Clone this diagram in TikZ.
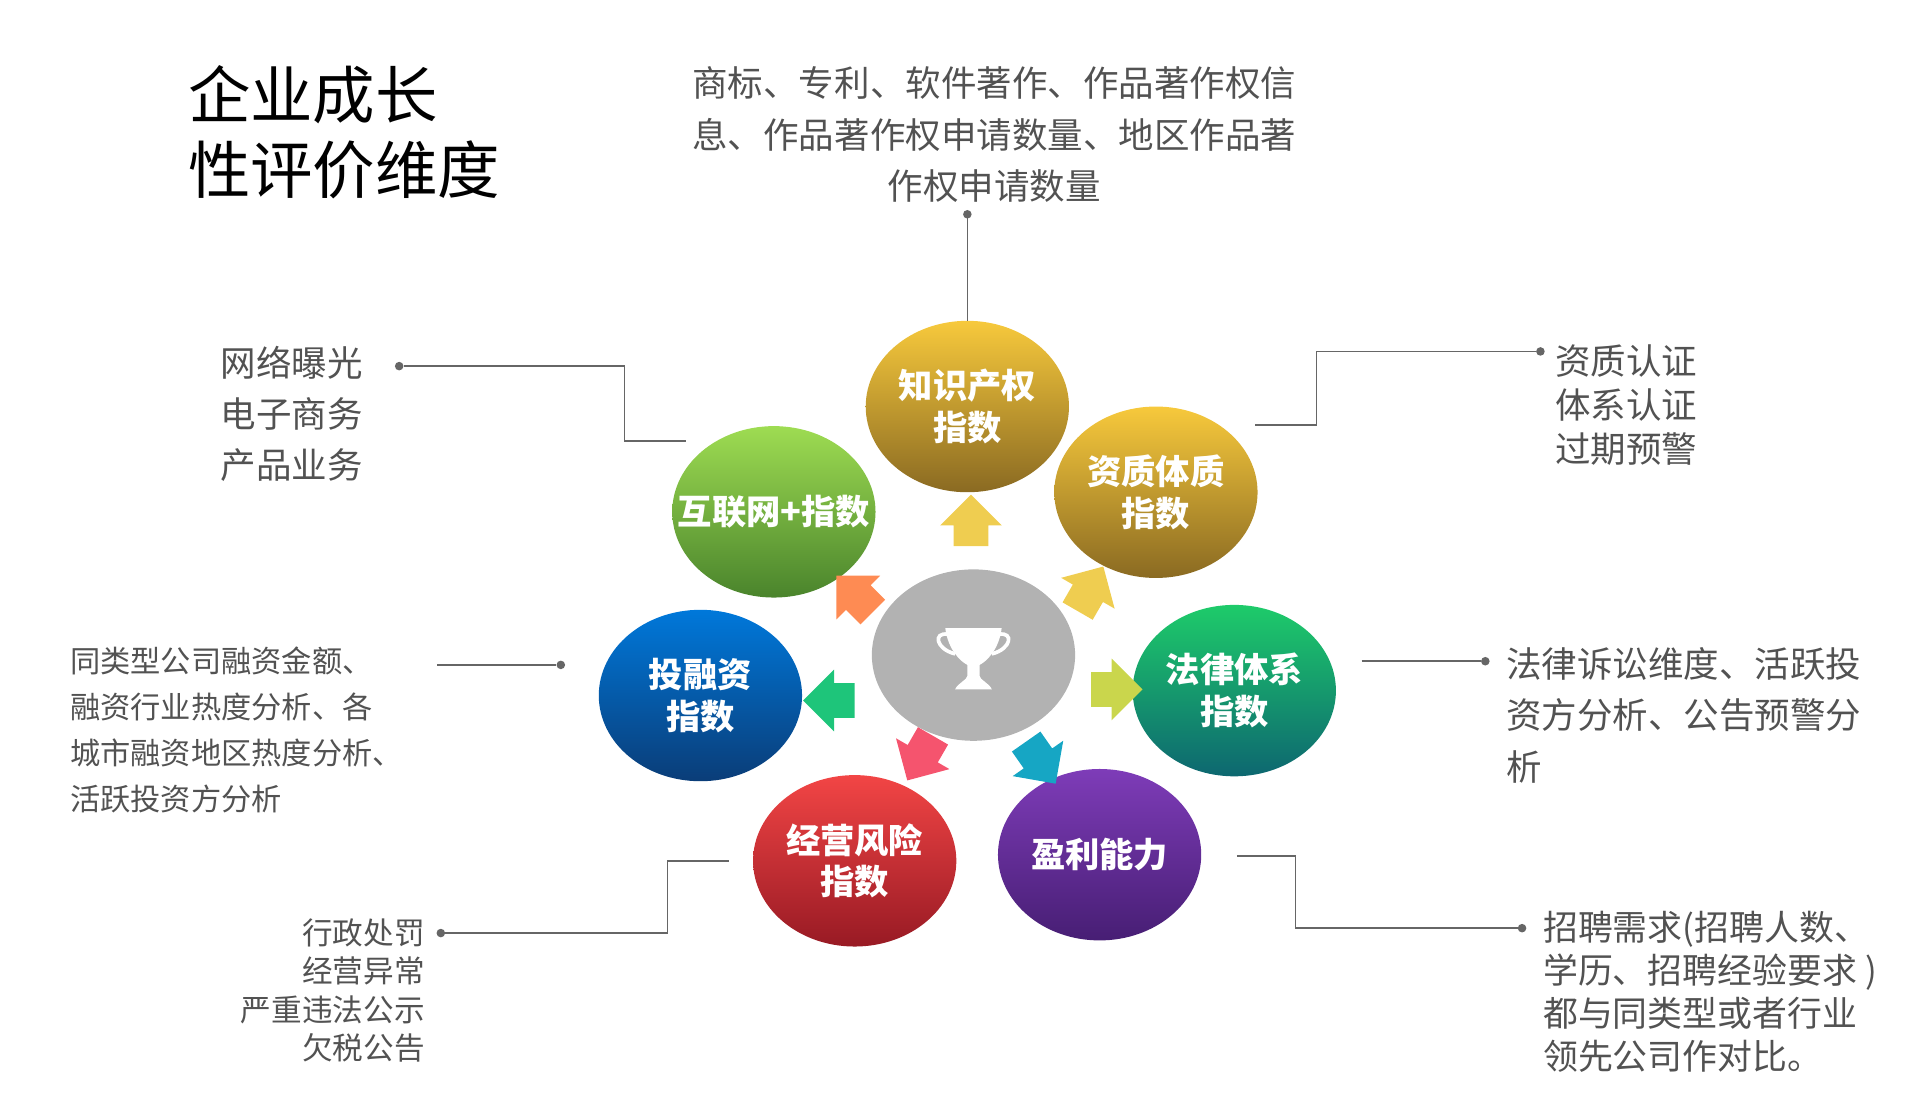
\documentclass[tikz,border=0pt]{standalone}
\usepackage{fontspec}
\setmainfont{Noto Sans CJK SC}
\usetikzlibrary{shapes.arrows,shapes.geometric}
\definecolor{g1}{HTML}{F7C93C}\definecolor{g2}{HTML}{8A6A22}
\definecolor{l1}{HTML}{9EDC52}\definecolor{l2}{HTML}{4A842C}
\definecolor{t1}{HTML}{1ECB6A}\definecolor{t2}{HTML}{0D6770}
\definecolor{b1}{HTML}{0078DA}\definecolor{b2}{HTML}{0A3D78}
\definecolor{r1}{HTML}{F24545}\definecolor{r2}{HTML}{981A24}
\definecolor{p1}{HTML}{7E3CB8}\definecolor{p2}{HTML}{471E74}
\begin{document}
\begin{tikzpicture}[x=1pt,y=-1pt,
  ball/.style={ellipse,minimum width=166pt,minimum height=140pt,inner sep=0pt},
  lab/.style={text=white,font=\fontsize{28}{34}\selectfont\bfseries,align=center,inner sep=0pt},
  arr/.style={single arrow,minimum height=42pt,minimum width=50pt,single arrow head extend=11pt,inner xsep=0pt,inner ysep=14pt,draw=none},
  desc/.style={font=\fontsize{29}{42}\selectfont,text=black!68,inner sep=0pt},
  ln/.style={draw=black!60,line width=1.2pt},
  dot/.style={circle,fill=black!60,inner sep=0pt,minimum size=7pt}]
\useasboundingbox (0,0) rectangle (1568,909);
\node[ball,fill=black!30] (c) at (795,535) {};
\node[ball,top color=g1,bottom color=g2] (ip) at (790,332) {};
\node[lab] at (ip) {知识产权\\指数};
\node[ball,top color=g1,bottom color=g2] (zz) at (944,402) {};
\node[lab] at (zz) {资质体质\\指数};
\node[ball,top color=l1,bottom color=l2] (hl) at (632,418) {};
\node[lab] at (hl) {互联网+指数};
\node[ball,top color=t1,bottom color=t2] (fl) at (1008,564) {};
\node[lab] at (fl) {法律体系\\指数};
\node[ball,top color=b1,bottom color=b2] (tr) at (572,568) {};
\node[lab] at (tr) {投融资\\指数};
\node[ball,top color=r1,bottom color=r2] (jy) at (698,703) {};
\node[lab] at (jy) {经营风险\\指数};
\node[ball,top color=p1,bottom color=p2] (yl) at (898,698) {};
\node[lab] at (yl) {盈利能力};
% trophy
\fill[white] (772,513) -- (818,513) .. controls (816,530) and (806,540) .. (800,543) -- (800,552) .. controls (800,555) and (808,558) .. (810,563) -- (780,563) .. controls (782,558) and (790,555) .. (790,552) -- (790,543) .. controls (784,540) and (774,530) .. (772,513) -- cycle;
\draw[white,line width=3pt] (774,518) .. controls (762,516) and (764,530) .. (780,534);
\draw[white,line width=3pt] (816,518) .. controls (828,516) and (826,530) .. (810,534);
% arrows
\node[arr,fill={rgb,255:red,239;green,205;blue,80},rotate=90] (a1) at (793,432) {};
\node[arr,fill={rgb,255:red,239;green,205;blue,80},rotate=60] (a2) at (887,487) {};
\node[arr,fill={rgb,255:red,202;green,214;blue,76},rotate=0] (a3) at (905,563) {};
\node[arr,fill={rgb,255:red,22;green,166;blue,196},rotate=-55] (a4) at (846,617) {};
\node[arr,fill={rgb,255:red,245;green,84;blue,110},rotate=-120] (a5) at (755,613) {};
\node[arr,fill={rgb,255:red,30;green,197;blue,122},rotate=180] (a6) at (684,572) {};
\node[arr,fill={rgb,255:red,254;green,139;blue,83},rotate=135] (a7) at (703,490) {};
% title
\node[font=\fontsize{51}{62}\selectfont,align=left,anchor=west] (t) at (150,108) {企业成长\\性评价维度};
% descriptions
\node[desc,align=center] (d1) at (812,110) {商标、专利、软件著作、作品著作权信\\息、作品著作权申请数量、地区作品著\\作权申请数量};
\coordinate (q1) at (790,175);
\node[dot] at (q1) {};
\draw[ln] (q1) -- (ip.north);
\node[desc,align=left,anchor=west] (d2) at (180,338) {网络曝光\\电子商务\\产品业务};
\node[dot] (e2) at (326,299) {};
\coordinate (q2) at (560,360);
\draw[ln] (e2) -- (510,299) -- (510,360) -- (q2);
\node[desc,align=left,anchor=west,font=\fontsize{29}{36}\selectfont] (d3) at (1270,331) {资质认证\\体系认证\\过期预警};
\node[dot] (e3) at (1258,287) {};
\coordinate (q3) at (1025,347);
\draw[ln] (e3) -- (1075,287) -- (1075,347) -- (q3);
\node[desc,align=left,anchor=west,font=\fontsize{24.7}{37.5}\selectfont] (d4) at (57,596) {同类型公司融资金额、\\融资行业热度分析、各\\城市融资地区热度分析、\\活跃投资方分析};
\node[dot] (e4) at (458,543) {};
\coordinate (q4) at (357,543);
\draw[ln] (q4) -- (e4);
\node[desc,align=left,anchor=west] (d5) at (1230,584) {法律诉讼维度、活跃投\\资方分析、公告预警分\\析};
\node[dot] (e5) at (1213,540) {};
\coordinate (q5) at (1112,540);
\draw[ln] (q5) -- (e5);
\node[desc,align=right,anchor=east,font=\fontsize{25}{31.5}\selectfont] (d6) at (347,809) {行政处罚\\经营异常\\严重违法公示\\欠税公告};
\node[dot] (e6) at (360,762) {};
\coordinate (q6) at (595,703);
\draw[ln] (e6) -- (545,762) -- (545,703) -- (q6);
\node[desc,align=left,anchor=west,font=\fontsize{28.5}{35}\selectfont] (d7) at (1260,810) {招聘需求(招聘人数、\\学历、招聘经验要求 )\\都与同类型或者行业\\领先公司作对比。};
\node[dot] (e7) at (1243,758) {};
\coordinate (q7) at (1010,699);
\draw[ln] (q7) -- (1058,699) -- (1058,758) -- (e7);
\end{tikzpicture}
\end{document}
